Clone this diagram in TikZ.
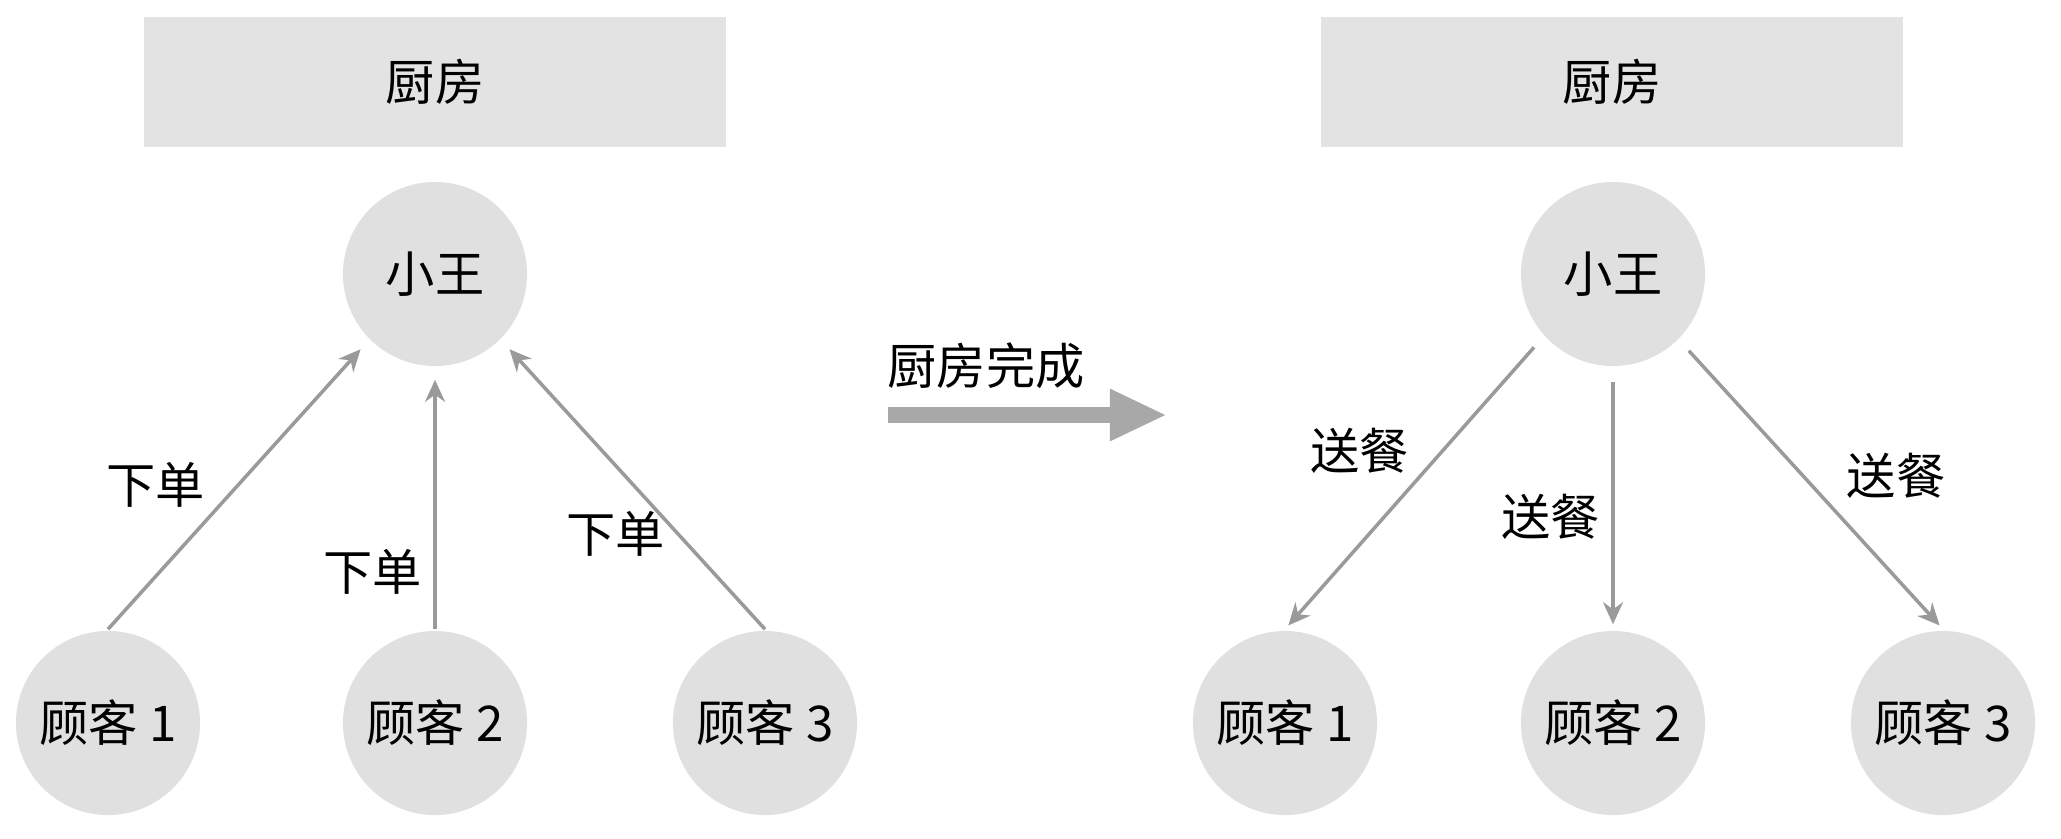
\documentclass[tikz,border=0pt]{standalone}
\usepackage{fontspec}
\setmainfont{Noto Sans CJK SC}
\usetikzlibrary{arrows,arrows.meta,positioning}
\definecolor{kitchengray}{HTML}{E3E3E3}
\definecolor{nodegray}{HTML}{E0E0E0}
\definecolor{edgegray}{HTML}{9A9A9A}
\definecolor{bigarrow}{HTML}{A8A8A8}

\begin{document}
\begin{tikzpicture}[x=0.01cm, y=-0.01cm, ->, >={Stealth[length=2.2mm,width=2mm]}, line width=1pt,
 font=\fontsize{14pt}{16pt}\selectfont,
 person/.style={circle, fill=nodegray, minimum size=1.84cm, inner sep=0pt},
 kitchen/.style={fill=kitchengray, minimum width=5.81cm, minimum height=1.3cm},
 order/.style={shorten >=1.2mm},
 serve/.style={shorten <=1.4mm, shorten >=0.5mm},
 every edge/.style={draw=edgegray}]
\useasboundingbox (0,0) rectangle (2061,838);
% before: customers order from Xiao Wang
\node[kitchen] (k1) at (435,82) {厨房};
\node[person] (w1) at (435,274) {小王};
\node[person] (c1) at (108,723) {顾客 1};
\node[person] (c2) at (435,723) {顾客 2};
\node[person] (c3) at (765,723) {顾客 3};
\path[order] (c1.north) edge node[pos=0.5, left=2mm] {下单} (w1.225);
\path[order] (c2.north) edge node[pos=0.22, left] {下单} (w1.south);
\path[order] (c3.north) edge node[pos=0.33, left] {下单} (w1.315);
% kitchen done
\coordinate (from) at (888,415);
\coordinate (to) at (1167,415);
\node (done) at (986,366) {厨房完成};
\draw[-{Triangle[length=0.57cm,width=0.48cm]}, line width=0.16cm, draw=bigarrow] (from) -- (to);
% after: Xiao Wang serves the food
\node[kitchen] (k2) at (1612,82) {厨房};
\node[person] (w2) at (1613,274) {小王};
\node[person] (d1) at (1285,723) {顾客 1};
\node[person] (d2) at (1613,723) {顾客 2};
\node[person] (d3) at (1943,723) {顾客 3};
\path[serve] (w2.222) edge node[pos=0.39, left=2mm] {送餐} (d1.north);
\path[serve] (w2.south) edge node[pos=0.57, left] {送餐} (d2.north);
\path[serve] (w2.315) edge node[pos=0.47, right=3mm] {送餐} (d3.north);
\end{tikzpicture}
\end{document}
